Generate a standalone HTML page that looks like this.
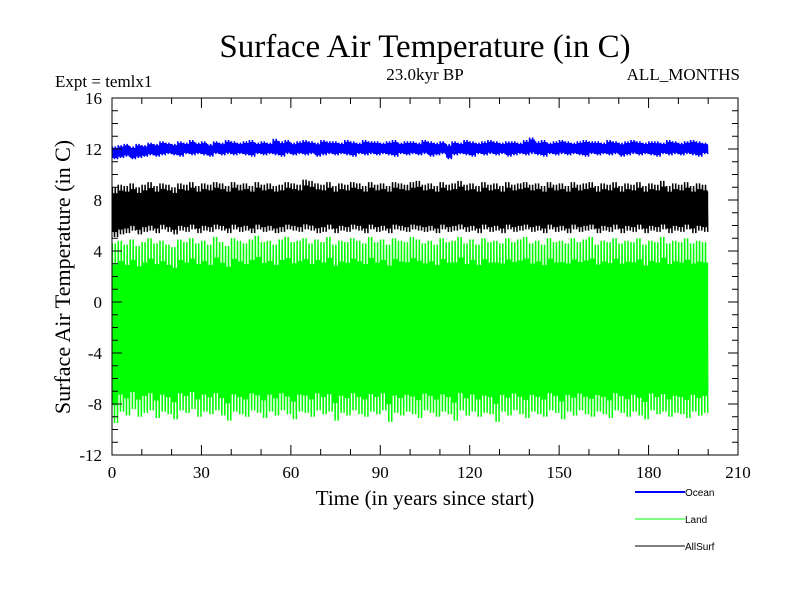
<!DOCTYPE html>
<html><head><meta charset="utf-8"><style>
body{margin:0;background:#fff}
svg text{font-family:"Liberation Serif",serif}
</style></head><body>
<svg id="chart" width="800" height="600" xmlns="http://www.w3.org/2000/svg">
<rect width="800" height="600" fill="#fff"/>
<text x="425" y="57" font-size="33" text-anchor="middle">Surface Air Temperature (in C)</text>
<text x="425" y="80" font-size="17" text-anchor="middle">23.0kyr BP</text>
<text x="55" y="87" font-size="17">Expt = temlx1</text>
<text x="740" y="80" font-size="17" text-anchor="end">ALL_MONTHS</text>
<text transform="translate(70,277) rotate(-90)" font-size="22" text-anchor="middle">Surface Air Temperature (in C)</text>
<text x="425" y="505" font-size="21" text-anchor="middle">Time (in years since start)</text>
<g id="series"></g>
<g id="axes"></g>
<g>
<line x1="635" y1="492" x2="685" y2="492" stroke="#0000ff" stroke-width="2"/>
<text x="685" y="496" font-size="10" style="font-family:'Liberation Sans',sans-serif">Ocean</text>
<line x1="635" y1="519" x2="685" y2="519" stroke="#00ff00" stroke-width="1"/>
<text x="685" y="523" font-size="10" style="font-family:'Liberation Sans',sans-serif">Land</text>
<line x1="635" y1="546" x2="685" y2="546" stroke="#000" stroke-width="1"/>
<text x="685" y="550" font-size="10" style="font-family:'Liberation Sans',sans-serif">AllSurf</text>
</g>
</svg>
<script>
const xTicks=[0,30,60,90,120,150,180,210];
const yTicks=[-12,-8,-4,0,4,8,12,16];
const oceanMax=[12.2,12.3,12.4,12.2,12.4,12.3,12.5,12.4,12.6,12.5,12.4,12.6,12.5,12.7,12.5,12.6,12.4,12.6,12.5,12.7,12.6,12.5,12.6,12.7,12.5,12.6,12.5,12.8,12.6,12.7,12.5,12.6,12.7,12.6,12.5,12.7,12.6,12.6,12.5,12.7,12.6,12.5,12.7,12.6,12.6,12.5,12.6,12.7,12.5,12.6,12.6,12.5,12.7,12.6,12.5,12.6,12.4,12.6,12.5,12.7,12.6,12.5,12.6,12.7,12.6,12.5,12.6,12.6,12.5,12.7,12.9,12.6,12.7,12.5,12.6,12.7,12.6,12.5,12.6,12.7,12.6,12.6,12.5,12.7,12.6,12.5,12.6,12.7,12.6,12.5,12.6,12.6,12.5,12.7,12.6,12.5,12.6,12.7,12.6,12.5];
const oceanMin=[11.2,11.3,11.4,11.2,11.3,11.4,11.5,11.4,11.5,11.6,11.5,11.4,11.6,11.5,11.6,11.5,11.4,11.6,11.5,11.6,11.5,11.6,11.5,11.4,11.6,11.5,11.6,11.5,11.4,11.6,11.5,11.6,11.5,11.6,11.4,11.5,11.6,11.5,11.6,11.5,11.4,11.6,11.5,11.6,11.5,11.6,11.5,11.4,11.6,11.5,11.6,11.5,11.6,11.4,11.5,11.6,11.2,11.5,11.6,11.5,11.4,11.6,11.5,11.6,11.5,11.6,11.4,11.5,11.6,11.5,11.6,11.5,11.4,11.6,11.5,11.6,11.5,11.6,11.5,11.4,11.6,11.5,11.6,11.5,11.6,11.4,11.5,11.6,11.5,11.6,11.5,11.4,11.6,11.5,11.6,11.5,11.6,11.5,11.4,11.6];
const allMax=[9.0,9.2,9.1,9.3,9.0,9.2,9.4,9.1,9.3,9.2,9.0,9.3,9.2,9.4,9.1,9.3,9.2,9.4,9.3,9.1,9.4,9.2,9.3,9.1,9.4,9.2,9.3,9.1,9.2,9.4,9.3,9.2,9.6,9.5,9.3,9.2,9.4,9.1,9.3,9.2,9.4,9.3,9.1,9.4,9.2,9.3,9.1,9.4,9.3,9.2,9.4,9.5,9.2,9.3,9.1,9.4,9.2,9.3,9.5,9.2,9.3,9.1,9.4,9.2,9.3,9.1,9.4,9.2,9.3,9.4,9.2,9.3,9.1,9.4,9.2,9.3,9.1,9.4,9.2,9.3,9.4,9.1,9.3,9.2,9.4,9.1,9.3,9.2,9.4,9.1,9.3,9.2,9.5,9.1,9.3,9.2,9.4,9.1,9.3,9.2];
const allMin=[5.1,5.3,5.4,5.6,5.3,5.5,5.6,5.4,5.7,5.5,5.3,5.6,5.5,5.7,5.4,5.6,5.5,5.7,5.6,5.4,5.7,5.5,5.6,5.4,5.7,5.5,5.6,5.4,5.5,5.7,5.6,5.5,5.7,5.6,5.4,5.5,5.7,5.4,5.6,5.5,5.7,5.6,5.4,5.7,5.5,5.6,5.4,5.7,5.6,5.5,5.7,5.6,5.5,5.6,5.4,5.7,5.5,5.6,5.7,5.5,5.6,5.4,5.7,5.5,5.6,5.4,5.7,5.5,5.6,5.7,5.5,5.6,5.4,5.7,5.5,5.6,5.4,5.7,5.5,5.6,5.7,5.4,5.6,5.5,5.7,5.4,5.6,5.5,5.7,5.4,5.6,5.5,5.7,5.4,5.6,5.5,5.7,5.4,5.6,5.5];
const landMax=[4.6,4.8,4.5,4.9,4.4,4.7,5.0,4.6,4.8,4.5,4.3,4.9,4.7,5.0,4.6,4.8,4.5,5.1,4.7,4.4,5.0,4.8,4.6,4.9,5.2,4.7,4.8,4.5,4.9,5.1,4.7,4.8,5.0,4.6,4.9,4.7,5.1,4.5,4.8,4.7,5.0,4.8,4.6,5.1,4.7,4.9,4.5,5.0,4.8,4.7,5.1,4.9,4.6,4.8,4.5,5.0,4.7,4.8,5.1,4.6,4.9,4.5,5.0,4.7,4.8,4.6,5.0,4.7,4.9,5.1,4.6,4.8,4.5,5.0,4.7,4.8,4.6,5.0,4.7,4.9,5.1,4.5,4.8,4.7,5.0,4.6,4.8,4.7,5.0,4.5,4.8,4.7,5.1,4.6,4.8,4.7,5.0,4.6,4.8,4.7];
const landMin=[-9.5,-8.6,-8.9,-8.4,-9.0,-8.7,-8.5,-9.1,-8.6,-8.8,-9.2,-8.5,-8.7,-8.4,-9.0,-8.6,-8.8,-8.5,-8.9,-9.3,-8.6,-8.8,-9.0,-8.5,-8.7,-9.1,-8.6,-8.9,-8.5,-8.8,-9.2,-8.6,-8.7,-9.0,-8.5,-8.8,-8.6,-9.3,-8.7,-8.9,-8.5,-8.8,-9.0,-8.6,-8.8,-8.5,-9.4,-8.7,-8.9,-8.6,-8.8,-9.1,-8.5,-8.7,-9.0,-8.6,-8.8,-9.3,-8.5,-8.9,-8.6,-9.0,-8.7,-8.8,-9.4,-8.6,-8.9,-8.5,-8.8,-9.1,-8.6,-8.8,-9.0,-8.5,-8.7,-9.2,-8.6,-8.9,-8.5,-8.8,-9.0,-8.6,-8.8,-9.1,-8.5,-8.7,-9.0,-8.6,-8.9,-9.2,-8.5,-8.8,-8.6,-9.0,-8.7,-8.8,-9.1,-8.6,-8.9,-8.7];
const X0=112,X1=738,Y0=455,Y1=98;
const xs=v=>X0+v*(X1-X0)/210;
const ys=v=>Y0-(v+12)*(Y0-Y1)/28;
const NS="http://www.w3.org/2000/svg";
const series=document.getElementById('series');
function drawSeries(mx,mn,color,name,core){
  // solid core band
  let top="",bot=[];
  for(let i=0;i<mx.length;i++){
    const span=mx[i]-mn[i];
    const a=xs(2*i).toFixed(2),b=xs(2*i+2).toFixed(2);
    top+=(i?"L":"M")+a+","+ys(mx[i]-span*core).toFixed(2)+"L"+b+","+ys(mx[i]-span*core).toFixed(2);
    bot.unshift("L"+b+","+ys(mn[i]+span*core).toFixed(2)+"L"+a+","+ys(mn[i]+span*core).toFixed(2));
  }
  const band=document.createElementNS(NS,'path');
  band.setAttribute('d',top+bot.join("")+"Z");band.setAttribute('fill',color);
  
  
  series.appendChild(band);
  let d="";
  for(let i=0;i<mx.length;i++){
    const t=2*i;
    for(let k=0;k<4;k++){
      const hi=mx[i]-(k%2)*0.12*(mx[i]-mn[i]);
      const lo=mn[i]+((k+1)%2)*0.1*(mx[i]-mn[i]);
      d+=((i||k)?"L":"M")+xs(t+k*0.5+0.1).toFixed(2)+","+ys(hi).toFixed(2);
      d+="L"+xs(t+k*0.5+0.35).toFixed(2)+","+ys(lo).toFixed(2);
    }
  }
  const p=document.createElementNS(NS,'path');
  p.setAttribute('d',d);p.setAttribute('fill','none');p.setAttribute('stroke',color);p.setAttribute('stroke-width','1.5');
  
  
  series.appendChild(p);
}
drawSeries(landMax,landMin,'#00ff00','land-series',0.12);
drawSeries(allMax,allMin,'#000000','allsurf-series',0.15);
drawSeries(oceanMax,oceanMin,'#0000ff','ocean-series',0.2);
const axes=document.getElementById('axes');
function ln(x1,y1,x2,y2){const l=document.createElementNS(NS,'line');l.setAttribute('x1',x1);l.setAttribute('y1',y1);l.setAttribute('x2',x2);l.setAttribute('y2',y2);l.setAttribute('stroke','#000');l.setAttribute('stroke-width','1');axes.appendChild(l);return l;}
const frame=document.createElementNS(NS,'rect');
frame.setAttribute('x',X0);frame.setAttribute('y',Y1);frame.setAttribute('width',X1-X0);frame.setAttribute('height',Y0-Y1);frame.setAttribute('fill','none');frame.setAttribute('stroke','#000');


axes.appendChild(frame);
for(let v=0;v<=210;v+=10){const L=v%30===0?10:6;const x=xs(v);ln(x,Y0,x,Y0-L);ln(x,Y1,x,Y1+L);}
for(let v=-12;v<=16;v+=1){const L=v%4===0?10:6;const y=ys(v);ln(X0,y,X0+L,y);ln(X1,y,X1-L,y);}
xTicks.forEach(v=>{const t=document.createElementNS(NS,'text');t.setAttribute('x',xs(v));t.setAttribute('y',Y0+23);t.setAttribute('font-size','17');t.setAttribute('text-anchor','middle');t.textContent=v;


axes.appendChild(t);});
yTicks.forEach(v=>{const t=document.createElementNS(NS,'text');t.setAttribute('x',X0-10);t.setAttribute('y',ys(v)+6);t.setAttribute('font-size','17');t.setAttribute('text-anchor','end');t.textContent=v;


axes.appendChild(t);});
</script>
</body></html>
